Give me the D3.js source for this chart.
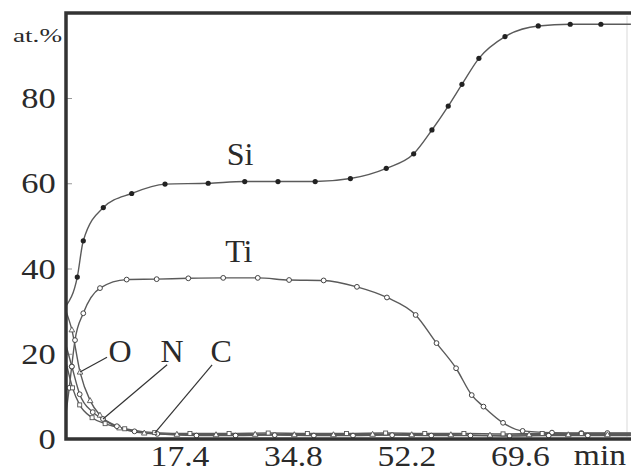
<!DOCTYPE html>
<html>
<head>
<meta charset="utf-8">
<script src="https://cdn.jsdelivr.net/npm/d3@7"></script>
<style>
  html, body { margin: 0; padding: 0; background: #fff; }
  svg { display: block; }
  text { font-family: "Liberation Serif", "Times New Roman", serif; fill: #2a2a2a; }
</style>
</head>
<body>
<svg id="chart" width="631" height="473"></svg>
<script>
// Depth profile: atomic concentration (at.%) versus sputter time (min)
const yTicks = [0, 20, 40, 60, 80];
const xTicks = [17.4, 34.8, 52.2, 69.6];

const si = [[0, 31.2], [1.73, 38.0], [2.65, 46.5], [5.72, 54.3], [10.07, 57.6], [15.18, 59.8],
  [21.8, 60.0], [27.4, 60.4], [32.5, 60.4], [38.2, 60.4], [43.6, 61.1], [49.1, 63.5],
  [53.3, 66.9], [56.1, 72.5], [58.6, 78.1], [60.7, 83.2], [63.3, 89.3], [67.3, 94.4],
  [72.4, 96.9], [77.3, 97.3], [82.0, 97.3], [86.6, 97.3]];

const ti = [[0, 6], [0.5, 12], [0.87, 17], [1.38, 23.2], [2.65, 29.5], [5.21, 35.4], [9.3, 37.4],
  [13.9, 37.5], [18.75, 37.7], [24.1, 37.8], [29.4, 37.8], [34.2, 37.3], [39.5, 37.2],
  [44.6, 35.7], [49.2, 33.2], [53.6, 29.1], [56.8, 22.5], [59.8, 16.6], [62.2, 10.3],
  [64.0, 7.6], [67.0, 3.8], [70.0, 1.9], [74.5, 1.5], [79.0, 1.4], [83.0, 1.4], [86.6, 1.4]];

const oxy = [[0, 30], [0.9, 25.6], [2.15, 15.7], [3.7, 9], [5.2, 5.6], [8.2, 2.6], [12, 1.4],
  [17, 1.1], [23, 1.0], [29, 1.1], [35, 1.0], [41, 1.0], [47, 1.1], [53, 1.0], [59, 1.0],
  [65, 0.9], [71, 1.0], [77, 1.0], [83, 1.0], [86.6, 1.0]];

const nit = [[0, 22], [0.9, 17], [2.1, 10.5], [4.1, 6.3], [5.67, 4.7], [7.8, 3], [10.5, 1.8],
  [14, 1.2], [20, 0.8], [26, 0.8], [32, 0.9], [38, 0.8], [44, 0.8], [50, 0.9], [56, 0.8],
  [62, 0.8], [68, 0.7], [74, 0.8], [80, 0.8], [86.6, 0.8]];

const carb = [[0, 18], [1, 12], [2.1, 8], [4, 5], [6, 3.6], [9, 2.4], [13.6, 1.5], [19, 1.3],
  [25, 1.3], [31, 1.4], [37, 1.3], [43, 1.3], [49, 1.4], [55, 1.3], [61, 1.3], [67, 1.2],
  [73, 1.3], [79, 1.3], [86.6, 1.3]];

const svg = d3.select("#chart");
const W = 631, H = 473;

const x = d3.scaleLinear().domain([0, 69.6]).range([66, 520]);
const y = d3.scaleLinear().domain([0, 80]).range([439, 98]);

const line = d3.line().x(d => x(d[0])).y(d => y(d[1])).curve(d3.curveMonotoneX);

// faint right edge
svg.append("line").attr("x1", 627).attr("x2", 627).attr("y1", 16).attr("y2", 437)
  .attr("stroke", "#e6e6e6").attr("stroke-width", 1.5);

// y axis ticks and labels
const yAxis = svg.append("g").attr("transform", `translate(${x(0)},0)`)
  .call(d3.axisLeft(y).tickValues(yTicks).tickSizeInner(-6).tickSizeOuter(0).tickPadding(9)
    .tickFormat(d3.format("d")));
yAxis.select(".domain").remove();
yAxis.selectAll(".tick line").attr("stroke", "#999").attr("stroke-width", 1);
yAxis.selectAll(".tick text").attr("font-size", 30).attr("fill", "#2a2a2a")
  .attr("font-family", "Liberation Serif").attr("transform", "scale(1.15,1)");

// x axis labels
const xAxis = svg.append("g").attr("transform", `translate(0,${y(0)})`)
  .call(d3.axisBottom(x).tickValues(xTicks).tickSize(0).tickPadding(6)
    .tickFormat(d3.format(".1f")));
xAxis.select(".domain").remove();
xAxis.selectAll(".tick text").attr("font-size", 30).attr("fill", "#2a2a2a")
  .attr("font-family", "Liberation Serif").attr("transform", "scale(1.12,1)");

svg.append("text").attr("x", 600).attr("y", 465).attr("text-anchor", "middle")
  .attr("font-size", 30).attr("transform", "translate(600,0) scale(1.12,1) translate(-600,0)")
  .text("min");

svg.append("text").attr("x", 13).attr("y", 42).attr("font-size", 19)
  .attr("textLength", 49).attr("lengthAdjust", "spacingAndGlyphs").text("at.%");

// curves
const series = [
  { data: si, marker: "dot" },
  { data: ti, marker: "ring" },
  { data: oxy, marker: "tri" },
  { data: nit, marker: "ring" },
  { data: carb, marker: "sq" }
];

const gCurves = svg.append("g");
series.forEach(s => {
  gCurves.append("path").datum(s.data).attr("d", line)
    .attr("fill", "none").attr("stroke", "#5a5a5a").attr("stroke-width", 1.4);
});

series.forEach(s => {
  const pts = s.data.slice(1, s.data[s.data.length - 1][0] > 86 ? -1 : undefined);
  const g = gCurves.append("g");
  pts.forEach(d => {
    const cx = x(d[0]), cy = y(d[1]);
    if (s.marker === "dot") {
      g.append("circle").attr("cx", cx).attr("cy", cy).attr("r", 2.6).attr("fill", "#222");
    } else if (s.marker === "ring") {
      g.append("circle").attr("cx", cx).attr("cy", cy).attr("r", 2.4)
        .attr("fill", "#fff").attr("stroke", "#444").attr("stroke-width", 1);
    } else if (s.marker === "tri") {
      g.append("path").attr("d", `M${cx},${cy - 3}L${cx + 2.8},${cy + 2}L${cx - 2.8},${cy + 2}Z`)
        .attr("fill", "#fff").attr("stroke", "#555").attr("stroke-width", 0.9);
    } else {
      g.append("rect").attr("x", cx - 2).attr("y", cy - 2).attr("width", 4).attr("height", 4)
        .attr("fill", "#fff").attr("stroke", "#555").attr("stroke-width", 0.9);
    }
  });
});

// series labels and leader lines
const labels = [
  { name: "Si", t: 26.7, v: 64.3 },
  { name: "Ti", t: 26.5, v: 41.5 },
  { name: "O", t: 8.3, v: 18.1 },
  { name: "N", t: 16.25, v: 18.1 },
  { name: "C", t: 23.8, v: 18.1 }
];
labels.forEach(l => {
  svg.append("text").attr("x", x(l.t)).attr("y", y(l.v)).attr("text-anchor", "middle")
    .attr("font-size", 32).text(l.name);
});

const leaders = [
  [[6.29, 19.2], [2.15, 15.7]],
  [[15.5, 17.4], [5.67, 4.7]],
  [[22.4, 17.4], [13.6, 1.4]]
];
leaders.forEach(p => {
  svg.append("line").attr("x1", x(p[0][0])).attr("y1", y(p[0][1]))
    .attr("x2", x(p[1][0])).attr("y2", y(p[1][1]))
    .attr("stroke", "#333").attr("stroke-width", 1.2);
});

// frame: left axis, top border, bottom axis
const frame = svg.append("g").attr("stroke", "#333").attr("stroke-width", 3.5).attr("fill", "none");
frame.append("path").attr("d", `M${W},${13}H${x(0)}V${y(0)}H${W}`);
</script>
</body>
</html>
